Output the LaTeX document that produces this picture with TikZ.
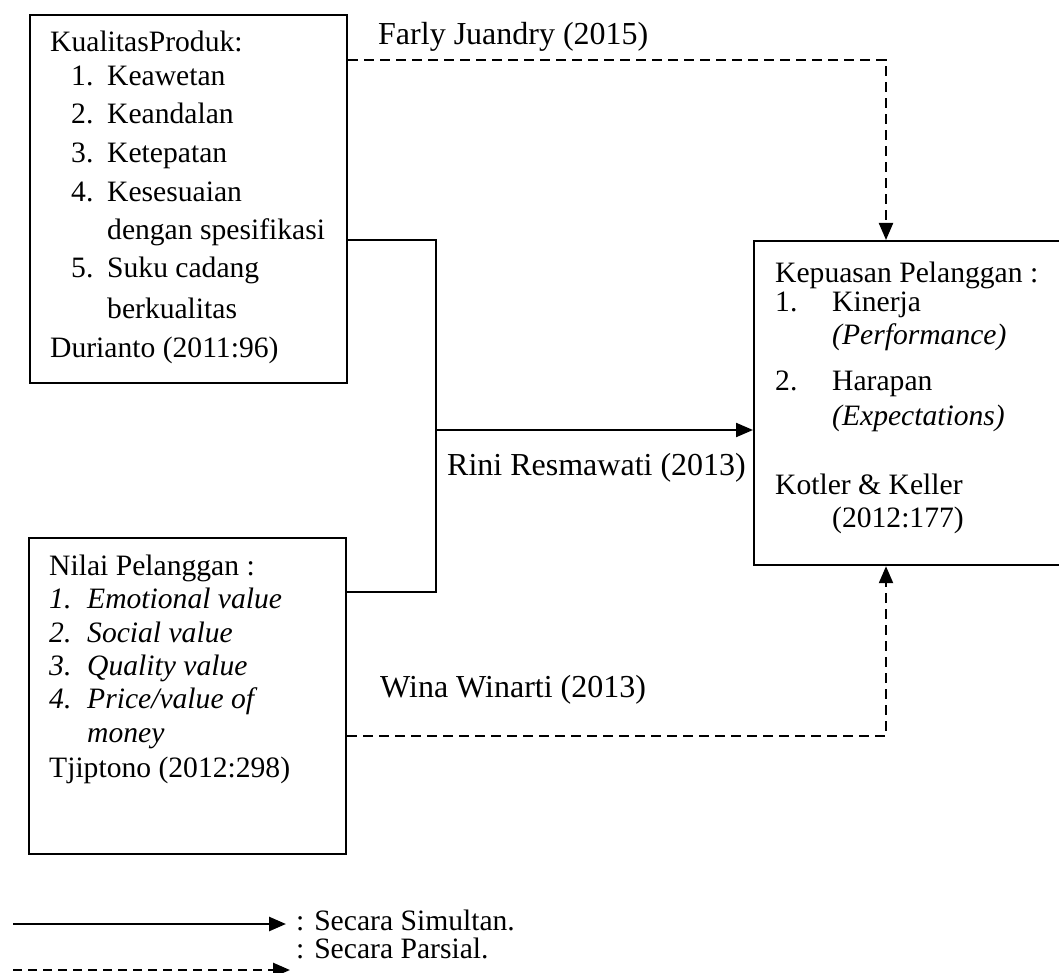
\documentclass[tikz,border=0pt]{standalone}
\usepackage{fontspec}
\setmainfont{Liberation Serif}
\usetikzlibrary{arrows.meta}
\tikzset{
  box/.style={draw, line width=2.2pt, inner sep=0pt, anchor=north west},
  txt/.style={anchor=base west, inner sep=0pt, font=\fontsize{29.6}{35}\selectfont},
  lbl/.style={anchor=base west, inner sep=0pt, font=\fontsize{32}{38}\selectfont},
  conn/.style={line width=2.2pt},
  dsh/.style={conn, dash pattern=on 10pt off 6pt},
  legline/.style={line width=2.6pt},
  tip/.style={-{Triangle[length=17pt,width=14pt]}}
}
\begin{document}
\begin{tikzpicture}[x=1pt,y=-1pt]
\useasboundingbox (0,0) rectangle (1059,973);
% boxes
\node[box, minimum width=317pt, minimum height=368pt] (kp) at (29,14) {};
\node[box, minimum width=317pt, minimum height=316pt] (np) at (28,537) {};
\node[box, minimum width=308pt, minimum height=324pt] (kep) at (753,240) {};
% box 1 text
\node[txt] (kpT) at (50,52) {KualitasProduk:};
\node[txt] (kpN1) at (71,86) {1.};
\node[txt] (kpI1) at (107,86) {Keawetan};
\node[txt] (kpN2) at (71,124) {2.};
\node[txt] (kpI2) at (107,124) {Keandalan};
\node[txt] (kpN3) at (71,163) {3.};
\node[txt] (kpI3) at (107,163) {Ketepatan};
\node[txt] (kpN4) at (71,202) {4.};
\node[txt] (kpI4) at (107,202) {Kesesuaian};
\node[txt] (kpI4b) at (107,240) {dengan spesifikasi};
\node[txt] (kpN5) at (71,278) {5.};
\node[txt] (kpI5) at (107,278) {Suku cadang};
\node[txt] (kpI5b) at (107,318) {berkualitas};
\node[txt] (kpS) at (50,357) {Durianto (2011:96)};
% box 2 text
\node[txt] (npT) at (49,575) {Nilai Pelanggan :};
\node[txt] (npN1) at (49,608) {\textit{1.}};
\node[txt] (npI1) at (87,608) {\textit{Emotional value}};
\node[txt] (npN2) at (49,642) {\textit{2.}};
\node[txt] (npI2) at (87,642) {\textit{Social value}};
\node[txt] (npN3) at (49,675) {\textit{3.}};
\node[txt] (npI3) at (87,675) {\textit{Quality value}};
\node[txt] (npN4) at (49,708) {\textit{4.}};
\node[txt] (npI4) at (87,708) {\textit{Price/value of}};
\node[txt] (npI4b) at (87,742) {\textit{money}};
\node[txt] (npS) at (49,777) {Tjiptono (2012:298)};
% box 3 text
\node[txt] (kepT) at (775,283) {Kepuasan Pelanggan :};
\node[txt] (kepN1) at (775,312) {1.};
\node[txt] (kepI1) at (832,312) {Kinerja};
\node[txt] (kepI1b) at (832,344) {\textit{(Performance)}};
\node[txt] (kepN2) at (775,390) {2.};
\node[txt] (kepI2) at (832,390) {Harapan};
\node[txt] (kepI2b) at (832,425) {\textit{(Expectations)}};
\node[txt] (kepS) at (775,494) {Kotler \& Keller};
\node[txt] (kepS2) at (832,527) {(2012:177)};
% labels
\node[lbl] (lFarly) at (378,45) {Farly Juandry (2015)};
\node[lbl] (lRini) at (447,475) {Rini Resmawati (2013)};
\node[lbl] (lWina) at (380,697) {Wina Winarti (2013)};
% connectors
\coordinate (j1) at (436,240);
\coordinate (j2) at (436,592);
\coordinate (j3) at (436,430);
\coordinate (d1) at (886,60);
\coordinate (d2) at (886,736);
\draw[conn] (kp.east |- j1) -- (j1) -- (j2) -- (np.east |- j2);
\draw[conn,tip] (j3) -- (kep.west |- j3);
\draw[dsh,tip] (kp.east |- d1) -- (d1) -- (kep.north -| d1);
\draw[dsh,tip] (np.east |- d2) -- (d2) -- (kep.south -| d2);
% legend
\coordinate (ls1) at (13,924);
\coordinate (le1) at (286,924);
\coordinate (ls2) at (13,970);
\coordinate (le2) at (290,970);
\draw[legline,tip] (ls1) -- (le1);
\draw[legline,dash pattern=on 9pt off 6pt,tip] (ls2) -- (le2);
\node[txt] (leg1) at (296,930) {: Secara Simultan.};
\node[txt] (leg2) at (296,958) {: Secara Parsial.};
\end{tikzpicture}
\end{document}
